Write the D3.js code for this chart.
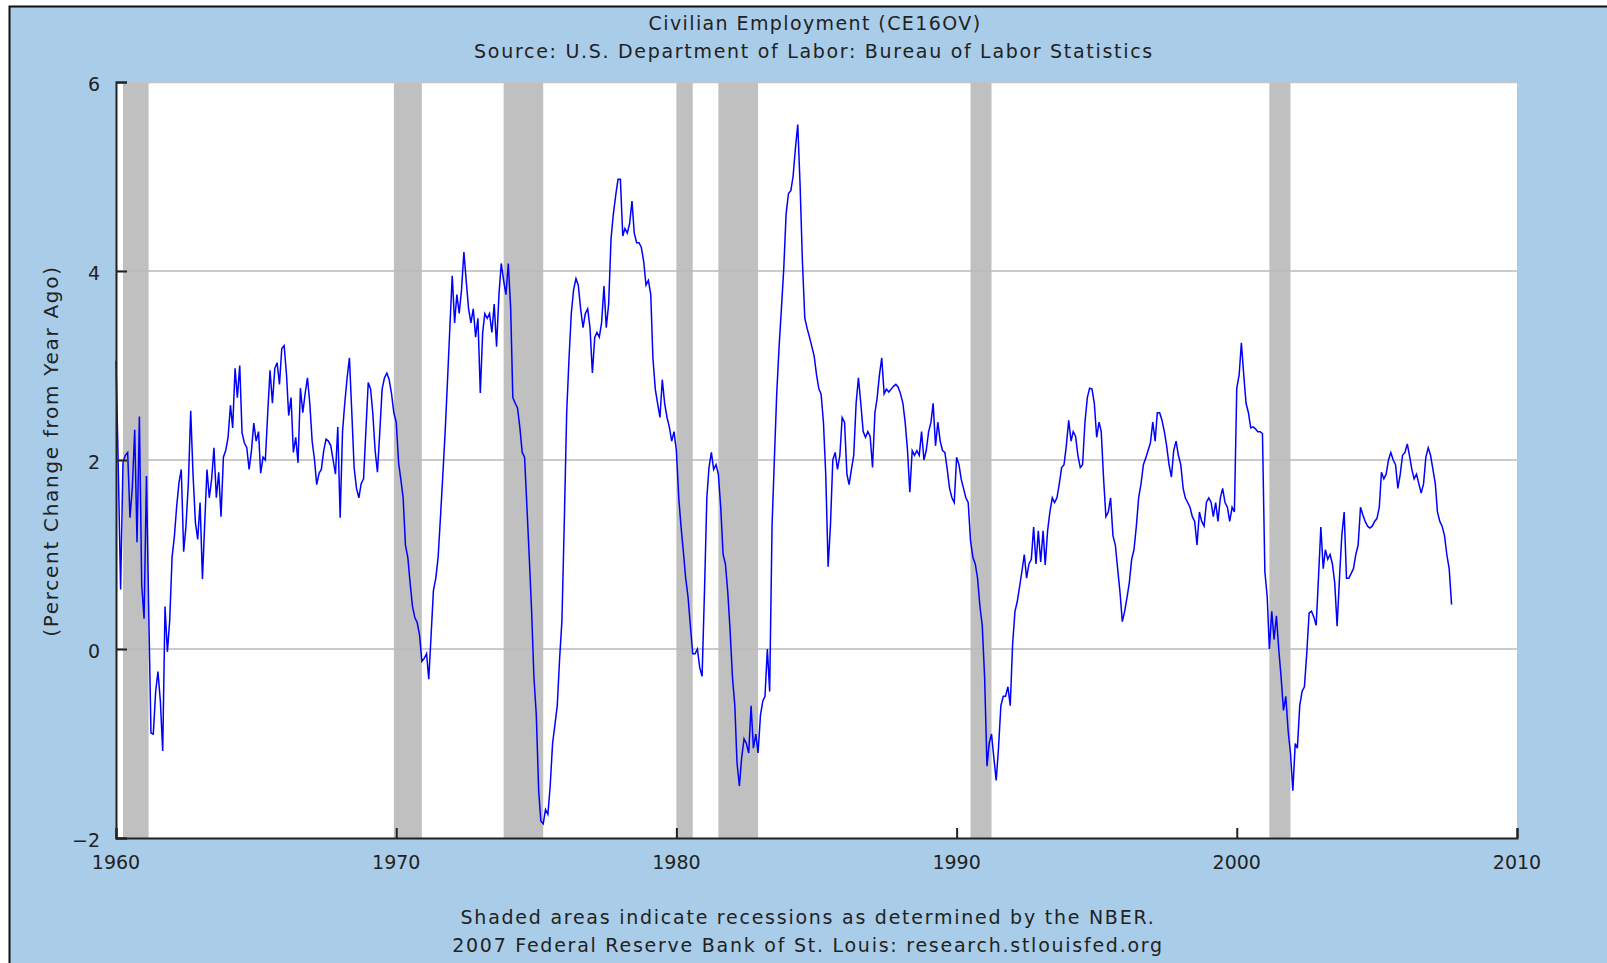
<!DOCTYPE html>
<html>
<head>
<meta charset="utf-8">
<script src="https://cdn.jsdelivr.net/npm/d3@7"></script>
<style>
  html, body { margin: 0; padding: 0; background: #ffffff; }
  #chart { width: 1607px; height: 963px; overflow: hidden; }
  text { font-family: "DejaVu Sans", Verdana, sans-serif; fill: #222; }
</style>
</head>
<body>
<div id="chart"></div>
<script>
// DATA (monthly, percent change from year ago, starting Jan 1960)
const vals1960s = [
  3.05, 1.87, 0.63, 1.97, 2.05, 2.08, 1.39, 1.71, 2.32, 1.13, 2.46, 0.68,
  0.32, 1.83, 0.47, -0.89, -0.9, -0.45, -0.24, -0.55, -1.08, 0.45, -0.03, 0.3,
  0.97, 1.2, 1.5, 1.76, 1.9, 1.03, 1.3, 1.75, 2.52, 1.85, 1.34, 1.16,
  1.55, 0.74, 1.3, 1.9, 1.6, 1.8, 2.13, 1.6, 1.87, 1.4, 2.03, 2.1,
  2.24, 2.58, 2.34, 2.97, 2.66, 3.0, 2.29, 2.18, 2.13, 1.9, 2.1, 2.39,
  2.2, 2.3, 1.86, 2.03, 2.0, 2.5, 2.95, 2.6, 2.97, 3.03, 2.8, 3.18,
  3.21, 2.9, 2.47, 2.66, 2.08, 2.24, 1.97, 2.76, 2.5, 2.7, 2.87, 2.6,
  2.2, 2.0, 1.74, 1.86, 1.9, 2.1, 2.22, 2.2, 2.15, 2.0, 1.85, 2.35,
  1.39, 2.3, 2.6, 2.87, 3.08, 2.5, 1.92, 1.7, 1.6, 1.75, 1.8, 2.3,
  2.82, 2.75, 2.5, 2.1, 1.87, 2.3, 2.75, 2.87, 2.92, 2.85, 2.7, 2.5
];
const vals1970s = [
  2.4, 1.97, 1.8, 1.6, 1.1, 0.97, 0.7, 0.45, 0.33, 0.28, 0.15, -0.13,
  -0.1, -0.05, -0.32, 0.15, 0.62, 0.75, 0.97, 1.4, 1.85, 2.3, 2.85, 3.4,
  3.95, 3.45, 3.75, 3.55, 3.8, 4.2, 3.9, 3.6, 3.45, 3.6, 3.3, 3.5,
  2.71, 3.35, 3.55, 3.5, 3.55, 3.35, 3.65, 3.2, 3.75, 4.08, 3.9, 3.75,
  4.08, 3.6, 2.66, 2.6, 2.55, 2.34, 2.08, 2.03, 1.5, 0.97, 0.4, -0.3,
  -0.7, -1.5, -1.82, -1.85, -1.7, -1.75, -1.45, -1.0, -0.8, -0.6, -0.1, 0.3,
  1.35, 2.5, 3.05, 3.55, 3.8, 3.92, 3.85, 3.6, 3.4, 3.55, 3.6, 3.4,
  2.92, 3.3, 3.35, 3.3, 3.45, 3.84, 3.4, 3.65, 4.34, 4.6, 4.8, 4.97,
  4.97, 4.37, 4.45, 4.4, 4.5, 4.74, 4.4, 4.3, 4.3, 4.25, 4.1, 3.85,
  3.9, 3.75, 3.08, 2.75, 2.6, 2.45, 2.85, 2.6, 2.45, 2.35, 2.2, 2.3
];
const vals1980s = [
  2.1, 1.6, 1.3, 1.03, 0.75, 0.55, 0.25, -0.05, -0.05, 0.0, -0.2, -0.29,
  0.6, 1.6, 1.92, 2.08, 1.9, 1.95, 1.85, 1.5, 1.0, 0.9, 0.6, 0.2,
  -0.3, -0.6, -1.2, -1.45, -1.15, -0.95, -1.0, -1.1, -0.6, -1.05, -0.9, -1.1,
  -0.7, -0.55, -0.5, 0.0, -0.45, 1.3, 2.0, 2.7, 3.2, 3.6, 4.03, 4.6,
  4.82, 4.85, 5.0, 5.3, 5.55, 4.9, 4.1, 3.5, 3.39, 3.3, 3.2, 3.1,
  2.9, 2.75, 2.7, 2.4, 1.85, 0.87, 1.3, 2.0, 2.08, 1.9, 2.05, 2.45,
  2.4, 1.85, 1.74, 1.9, 2.05, 2.6, 2.87, 2.6, 2.3, 2.24, 2.3, 2.25,
  1.92, 2.5, 2.65, 2.9, 3.08, 2.7, 2.75, 2.72, 2.75, 2.78, 2.8, 2.77,
  2.7, 2.6, 2.4, 2.1, 1.66, 2.1, 2.05, 2.1, 2.05, 2.3, 2.0, 2.1,
  2.3, 2.4, 2.6, 2.15, 2.4, 2.2, 2.1, 2.08, 1.9, 1.7, 1.6, 1.55
];
const vals1990s = [
  2.03, 1.95, 1.8, 1.7, 1.6, 1.55, 1.15, 0.97, 0.9, 0.75, 0.45, 0.25,
  -0.3, -1.24, -1.0, -0.9, -1.15, -1.39, -1.05, -0.6, -0.5, -0.5, -0.4, -0.6,
  0.05, 0.4, 0.5, 0.66, 0.82, 1.0, 0.75, 0.9, 0.95, 1.29, 0.9, 1.25,
  0.92, 1.25, 0.89, 1.25, 1.45, 1.6, 1.55, 1.6, 1.75, 1.92, 1.95, 2.15,
  2.42, 2.2, 2.3, 2.25, 2.05, 1.92, 1.95, 2.4, 2.66, 2.76, 2.75, 2.6,
  2.24, 2.4, 2.3, 1.8, 1.4, 1.45, 1.6, 1.2, 1.1, 0.85, 0.6, 0.29,
  0.4, 0.55, 0.7, 0.95, 1.05, 1.3, 1.6, 1.75, 1.95, 2.02, 2.1, 2.18,
  2.4, 2.2, 2.5, 2.5, 2.42, 2.3, 2.15, 1.95, 1.82, 2.1, 2.2, 2.05,
  1.95, 1.7, 1.6, 1.55, 1.5, 1.4, 1.35, 1.1, 1.45, 1.35, 1.3, 1.55,
  1.6, 1.55, 1.4, 1.55, 1.35, 1.6, 1.7, 1.55, 1.5, 1.35, 1.5, 1.45
];
const vals2000s = [
  2.76, 2.9, 3.24, 2.9, 2.6, 2.5, 2.34, 2.35, 2.33, 2.3, 2.3, 2.28,
  0.82, 0.55, 0.0, 0.4, 0.1, 0.35, 0.0, -0.3, -0.65, -0.5, -0.87, -1.1,
  -1.5, -1.0, -1.05, -0.6, -0.45, -0.4, -0.05, 0.38, 0.4, 0.34, 0.25, 0.75,
  1.29, 0.85, 1.05, 0.95, 1.0, 0.9, 0.7, 0.24, 0.75, 1.2, 1.45, 0.75,
  0.75, 0.8, 0.85, 1.0, 1.1, 1.5, 1.42, 1.35, 1.3, 1.28, 1.3, 1.35,
  1.38, 1.5, 1.87, 1.8, 1.85, 2.0, 2.08, 2.0, 1.95, 1.7, 1.85, 2.05,
  2.08, 2.17, 2.05, 1.9, 1.8, 1.85, 1.75, 1.65, 1.75, 2.03, 2.13, 2.05,
  1.9, 1.75, 1.45, 1.35, 1.3, 1.2, 1.0, 0.85, 0.47
];

// NBER recessions (peak month, month after trough)
const recessions = [
  ["1960-04", "1961-03"], ["1969-12", "1970-12"], ["1973-11", "1975-04"],
  ["1980-01", "1980-08"], ["1981-07", "1982-12"], ["1990-07", "1991-04"],
  ["2001-03", "2001-12"]
];

// TICKS
const xTickYears = [1960, 1970, 1980, 1990, 2000, 2010];
const yTicks = [-2, 0, 2, 4, 6];
const yGrid = [0, 2, 4];

// TEXTS
const titleText = "Civilian Employment (CE16OV)";
const subtitleText = "Source: U.S. Department of Labor: Bureau of Labor Statistics";
const yLabel = "(Percent Change from Year Ago)";
const footer1 = "Shaded areas indicate recessions as determined by the NBER.";
const footer2 = "2007 Federal Reserve Bank of St. Louis: research.stlouisfed.org";

// BUILD SERIES
const allVals = [].concat(vals1960s, vals1970s, vals1980s, vals1990s, vals2000s);
const series = allVals.map((v, i) => ({ date: new Date(1960, i, 1), value: v }));
const parseMonth = d3.timeParse("%Y-%m");

// CONSTANTS
const width = 1607;
const height = 963;
const plotLeft = 116, plotRight = 1517, plotTop = 82, plotBottom = 838;

const svg = d3.select("#chart")
  .append("svg")
  .attr("width", width)
  .attr("height", height);

// FRAME
svg.append("rect")
  .attr("x", 9.5).attr("y", 6.5)
  .attr("width", 1700).attr("height", 1000)
  .attr("fill", "#a9cde8")
  .attr("stroke", "#111")
  .attr("stroke-width", 2);

// SCALES
const xScale = d3.scaleTime()
  .domain([new Date(1960, 0, 1), new Date(2010, 0, 1)])
  .range([plotLeft, plotRight]);

const yScale = d3.scaleLinear()
  .domain([-2, 6])
  .range([plotBottom, plotTop]);

// PLOT BACKGROUND
svg.append("rect")
  .attr("x", plotLeft).attr("y", plotTop)
  .attr("width", plotRight - plotLeft).attr("height", plotBottom - plotTop)
  .attr("fill", "#ffffff");

// RECESSIONS
svg.selectAll(".recession")
  .data(recessions)
  .join("rect")
  .attr("class", "recession")
  .attr("x", d => xScale(parseMonth(d[0])))
  .attr("y", plotTop)
  .attr("width", d => xScale(parseMonth(d[1])) - xScale(parseMonth(d[0])))
  .attr("height", plotBottom - plotTop)
  .attr("fill", "#c0c0c0");

// GRID
svg.selectAll(".grid")
  .data(yGrid)
  .join("line")
  .attr("class", "grid")
  .attr("x1", plotLeft).attr("x2", plotRight)
  .attr("y1", d => yScale(d)).attr("y2", d => yScale(d))
  .attr("stroke", "#bababa")
  .attr("stroke-width", 1.5);

svg.append("line")
  .attr("x1", plotLeft).attr("x2", plotRight)
  .attr("y1", plotTop + 0.5).attr("y2", plotTop + 0.5)
  .attr("stroke", "#c4c4c4")
  .attr("stroke-width", 1.5);

// LINE
const line = d3.line()
  .x(d => xScale(d.date))
  .y(d => yScale(d.value));

svg.append("path")
  .datum(series)
  .attr("fill", "none")
  .attr("stroke", "#0000ff")
  .attr("stroke-width", 1.5)
  .attr("d", line);

// AXES
const yAxis = d3.axisRight(yScale)
  .tickValues(yTicks)
  .tickSize(11)
  .tickFormat("");

const yAxisGroup = svg.append("g")
  .attr("transform", `translate(${plotLeft},0)`)
  .call(yAxis);
yAxisGroup.select(".domain").attr("stroke", "#222").attr("stroke-width", 2);
yAxisGroup.selectAll(".tick line").attr("stroke", "#222").attr("stroke-width", 2);

svg.selectAll(".ylab")
  .data(yTicks)
  .join("text")
  .attr("class", "ylab")
  .attr("x", plotLeft - 16)
  .attr("y", d => yScale(d) + 9)
  .attr("text-anchor", "end")
  .attr("font-size", 19)
  .text(d => d < 0 ? "\u2212" + Math.abs(d) : d);

const xAxis = d3.axisTop(xScale)
  .tickValues(xTickYears.map(y => new Date(y, 0, 1)))
  .tickSize(10)
  .tickFormat("");

const xAxisGroup = svg.append("g")
  .attr("transform", `translate(0,${plotBottom})`)
  .call(xAxis);
xAxisGroup.select(".domain").attr("stroke", "#222").attr("stroke-width", 2);
xAxisGroup.selectAll(".tick line").attr("stroke", "#222").attr("stroke-width", 2);

svg.selectAll(".xlab")
  .data(xTickYears)
  .join("text")
  .attr("class", "xlab")
  .attr("x", d => xScale(new Date(d, 0, 1)))
  .attr("y", plotBottom + 31)
  .attr("text-anchor", "middle")
  .attr("font-size", 19)
  .text(d => d);

// TITLES
svg.append("text")
  .attr("x", 815).attr("y", 30)
  .attr("text-anchor", "middle")
  .attr("font-size", 19)
  .attr("letter-spacing", 1.4)
  .text(titleText);

svg.append("text")
  .attr("x", 814).attr("y", 58)
  .attr("text-anchor", "middle")
  .attr("font-size", 19)
  .attr("letter-spacing", 1.7)
  .text(subtitleText);

svg.append("text")
  .attr("transform", "translate(58,451) rotate(-90)")
  .attr("text-anchor", "middle")
  .attr("font-size", 20)
  .attr("letter-spacing", 1.7)
  .text(yLabel);

svg.append("text")
  .attr("x", 808).attr("y", 924)
  .attr("text-anchor", "middle")
  .attr("font-size", 19)
  .attr("letter-spacing", 1.75)
  .text(footer1);

svg.append("text")
  .attr("x", 808).attr("y", 952)
  .attr("text-anchor", "middle")
  .attr("font-size", 19)
  .attr("letter-spacing", 1.75)
  .text(footer2);
</script>
</body>
</html>
